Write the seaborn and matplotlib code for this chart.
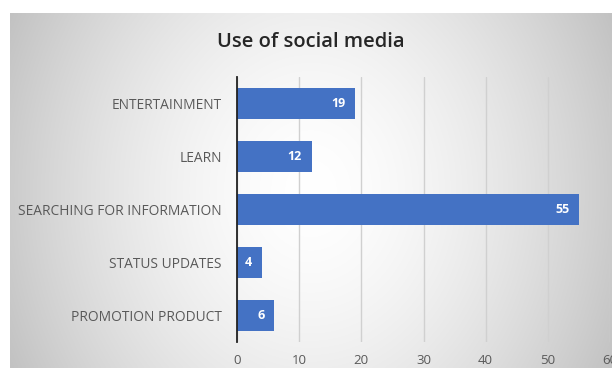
import numpy as np
import pandas as pd
import matplotlib
matplotlib.use("Agg")
import matplotlib.pyplot as plt
import seaborn as sns
from matplotlib.transforms import offset_copy

categories = ["ENTERTAINMENT", "LEARN", "SEARCHING FOR INFORMATION", "STATUS UPDATES", "PROMOTION PRODUCT"]
values = [19, 12, 55, 4, 6]
xticks = [0, 10, 20, 30, 40, 50, 60]
title = "Use of social media"

df = pd.DataFrame({"category": categories, "value": values})

sns.set_theme(style="white")
plt.rcParams["font.family"] = ["Open Sans", "DejaVu Sans"]

W, H = 612, 368
fig = plt.figure(figsize=(W / 100, H / 100), dpi=100)
fig.patch.set_facecolor("white")

# gradient background panel
bg = fig.add_axes([10 / W, 0, (W - 10) / W, (H - 13) / H])
xs = np.linspace(-1, 1, 400)
ys = np.linspace(-1, 1, 200)
X, Y = np.meshgrid(xs, ys)
R = np.sqrt((X * 1.0) ** 2 + (Y * 0.5) ** 2)
shade = 1 - 0.2 * np.clip(R, 0, 1.3) ** 1.6
bg.imshow(np.dstack([shade, shade, shade]), aspect="auto", extent=[0, 1, 0, 1], interpolation="bilinear")
bg.set_axis_off()

ax = fig.add_axes([237 / W, 1 - 342 / H, (610 - 237) / W, (342 - 77) / H])
ax.patch.set_alpha(0)
sns.barplot(data=df, x="value", y="category", orient="h", color="#4472C4",
            saturation=1, width=0.58, ax=ax, zorder=3, linewidth=0, edgecolor="none")
ax.set_xlim(0, 60)
ax.set_ylim(4.5, -0.5)
ax.set_xticks(xticks)
ax.set_xticklabels([str(t) for t in xticks], fontsize=9.5, color="#595959")
ax.tick_params(axis="y", labelsize=9.9, colors="#595959", length=0, pad=11)
ax.tick_params(axis="x", length=0, pad=9)
ax.set_xlabel("")
ax.set_ylabel("")
ax.xaxis.grid(True, color="#d0d0d0", linewidth=1, zorder=0)
for s in ["top", "right", "bottom"]:
    ax.spines[s].set_visible(False)
ax.spines["left"].set_color("#222222")
ax.spines["left"].set_linewidth(1.3)
ax.spines["left"].set_zorder(4)

for i, v in enumerate(values):
    tr = offset_copy(ax.transData, fig=fig, x=-7, y=0, units="points")
    ax.text(v, i, str(v), transform=tr, ha="right", va="center",
            color="white", fontsize=9, fontweight="bold", zorder=5)

fig.text(0.5 * (10 + W) / W, 1 - 42 / H, title, ha="center", va="center",
         fontsize=14.5, fontweight="semibold", color="#262626")

fig.savefig("out.png", dpi=100)
